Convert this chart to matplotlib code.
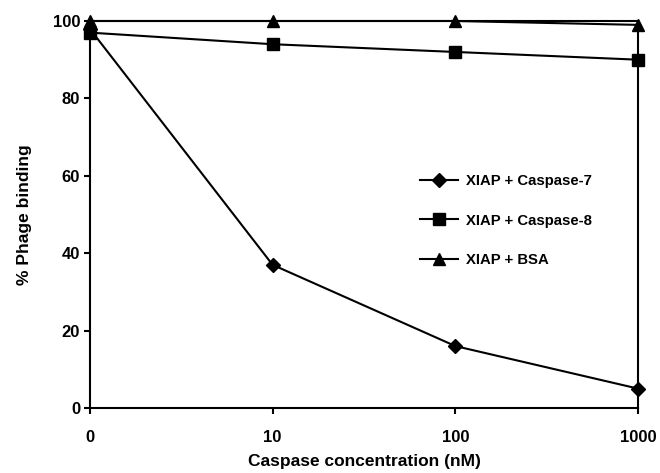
import matplotlib
matplotlib.use("Agg")
import matplotlib.pyplot as plt

plt.rcParams['font.family'] = ['Liberation Sans', 'DejaVu Sans']
plt.rcParams['font.weight'] = 'bold'

concentrations = ["0", "10", "100", "1000"]
casp7 = [98, 37, 16, 5]
casp8 = [97, 94, 92, 90]
bsa = [100, 100, 100, 99]

fig = plt.figure(figsize=(6.6, 4.73), dpi=100)
ax = fig.add_axes([0.136, 0.1374, 0.831, 0.8182])

x = list(range(len(concentrations)))
ax.plot(x, casp7, color='black', lw=1.5, marker='D', ms=7, label='XIAP + Caspase-7', clip_on=False)
ax.plot(x, casp8, color='black', lw=1.5, marker='s', ms=9, label='XIAP + Caspase-8', clip_on=False)
ax.plot(x, bsa, color='black', lw=1.5, marker='^', ms=9, label='XIAP + BSA', clip_on=False)

ax.set_xlim(0, 3)
ax.set_ylim(0, 100)
ax.set_xticks(x)
ax.set_xticklabels(concentrations)
ax.set_yticks([0, 20, 40, 60, 80, 100])
ax.tick_params(axis='both', direction='out', length=4, width=1.5, labelsize=12)
ax.tick_params(axis='y', pad=3)
ax.tick_params(axis='x', pad=12)
for lbl in ax.get_xticklabels() + ax.get_yticklabels():
    lbl.set_fontweight('bold')
for s in ax.spines.values():
    s.set_linewidth(1.5)

ax.set_xlabel('Caspase concentration (nM)', fontsize=12.5, fontweight='bold', labelpad=6)
ax.set_ylabel('% Phage binding', fontsize=12.5, fontweight='bold', labelpad=15)

leg = ax.legend(loc='upper left', bbox_to_anchor=(0.577, 0.638), frameon=False,
                labelspacing=1.69, handlelength=2.6, handletextpad=0.54,
                prop={'weight': 'bold', 'size': 10.7})

fig.savefig('out.png', dpi=100)
